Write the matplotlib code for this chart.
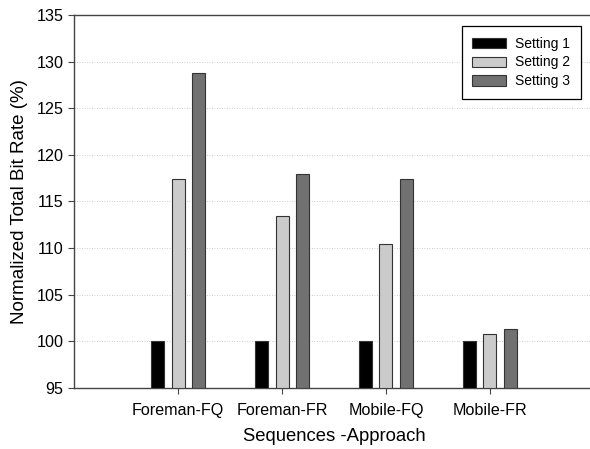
import numpy as np
import matplotlib.pyplot as plt

plt.rcParams['font.family'] = ['Liberation Sans', 'DejaVu Sans']

# dados
sequences = ["Foreman-FQ", "Foreman-FR", "Mobile-FQ", "Mobile-FR"]
setting1 = [100, 100, 100, 100]
setting2 = [117.4, 113.4, 110.4, 100.75]
setting3 = [128.8, 117.9, 117.4, 101.3]
labels = ["Setting 1", "Setting 2", "Setting 3"]
colors = ["#000000", "#cbcbcb", "#717171"]

fig = plt.figure(figsize=(5.9, 4.49), dpi=100)
ax = fig.add_axes([74 / 590, 61 / 449, 520 / 590, 373 / 449])

x = np.arange(1, len(sequences) + 1)
base = 95
for i, vals in enumerate([setting1, setting2, setting3]):
    ax.bar(x + (i - 1) * 0.2, np.array(vals) - base, bottom=base, width=0.125,
           color=colors[i], edgecolor="#333333", linewidth=0.8, label=labels[i], zorder=3)

ax.set_xlim(0, 5)
ax.set_ylim(95, 135)
ax.set_yticks(np.arange(95, 136, 5))
ax.set_xticks(x)
ax.set_xticklabels(sequences)
ax.yaxis.grid(True, linestyle=(0, (1, 2)), color="#bdbdbd", linewidth=0.6, zorder=0)

for s in ["left", "top", "bottom"]:
    ax.spines[s].set_color("#444444")
    ax.spines[s].set_linewidth(1.0)
ax.spines["right"].set_visible(False)
ax.tick_params(axis="both", direction="out", length=4, width=0.8, color="#444444", labelsize=11.6)
ax.tick_params(axis="x", pad=7)

ax.set_ylabel("Normalized Total Bit Rate (%)", fontsize=13.5, labelpad=6)
ax.set_xlabel("Sequences -Approach", fontsize=13.3, labelpad=7)

leg = ax.legend(loc="upper right", bbox_to_anchor=(0.975, 0.97), borderaxespad=0,
                fontsize=10, fancybox=False, edgecolor="black", framealpha=1,
                handlelength=2.4, handleheight=0.75, handletextpad=0.7,
                labelspacing=0.35, borderpad=0.75)
leg.get_frame().set_linewidth(0.9)

plt.savefig("out.png", dpi=100)
